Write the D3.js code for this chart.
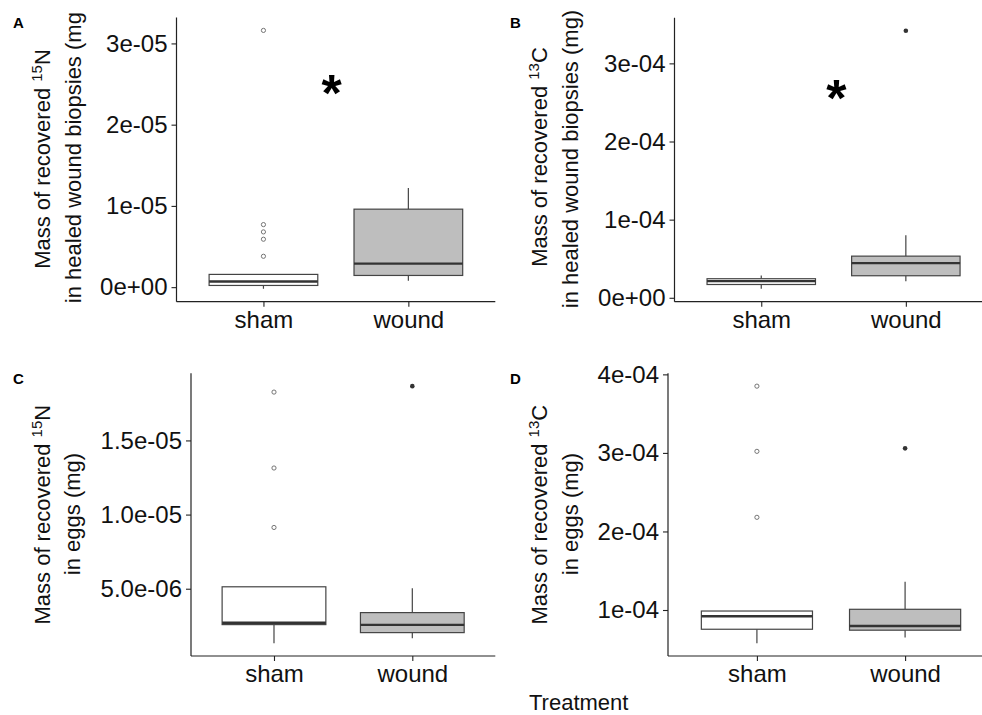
<!DOCTYPE html>
<html>
<head>
<meta charset="utf-8">
<script src="https://cdn.jsdelivr.net/npm/d3@7"></script>
<style>
  body { margin: 0; background: #fff; }
  svg { display: block; font-family: "Liberation Sans", Arial, sans-serif; }
</style>
</head>
<body>
<div id="chart"></div>
<script>
// groups on the x axis
const groups = ["sham", "wound"];

// five-number summaries [lower whisker, q1, median, q3, upper whisker] per group
const statsA = [[-2e-7, 2.1e-7, 7e-7, 1.57e-6, 1.57e-6], [8e-7, 1.44e-6, 2.9e-6, 9.6e-6, 1.22e-5]];
const statsB = [[1.15e-5, 1.7e-5, 2.13e-5, 2.44e-5, 2.86e-5], [2.13e-5, 2.82e-5, 4.44e-5, 5.33e-5, 7.99e-5]];
const statsC = [[1.33e-6, 2.58e-6, 2.71e-6, 5.13e-6, 5.13e-6], [1.66e-6, 2.04e-6, 2.56e-6, 3.39e-6, 5.03e-6]];
const statsD = [[5.78e-5, 7.55e-5, 9.2e-5, 9.87e-5, 9.87e-5], [6.5e-5, 7.43e-5, 7.97e-5, 1.009e-4, 1.36e-4]];

// outliers per group
const outA = [[3.8e-6, 5.9e-6, 6.8e-6, 7.7e-6, 3.16e-5], []];
const outB = [[], [3.418e-4]];
const outC = [[9.13e-6, 1.314e-5, 1.826e-5], [1.866e-5]];
const outD = [[2.18e-4, 3.02e-4, 3.85e-4], [3.058e-4]];

// y ticks and their labels
const ticksA = [0, 1e-5, 2e-5, 3e-5];
const tickLabelsA = ["0e+00", "1e-05", "2e-05", "3e-05"];
const ticksB = [0, 1e-4, 2e-4, 3e-4];
const tickLabelsB = ["0e+00", "1e-04", "2e-04", "3e-04"];
const ticksC = [5e-6, 1e-5, 1.5e-5];
const tickLabelsC = ["5.0e-06", "1.0e-05", "1.5e-05"];
const ticksD = [1e-4, 2e-4, 3e-4, 4e-4];
const tickLabelsD = ["1e-04", "2e-04", "3e-04", "4e-04"];

// significance marks [x position, value]
const starA = [1.47, 2.49e-5];
const starB = [1.52, 2.66e-4];

const width = 982, height = 715;
const svg = d3.select("#chart").append("svg")
  .attr("width", width).attr("height", height);

// the A panel's y title is cut at the top in the original figure
svg.append("defs").append("clipPath").attr("id", "clipTop")
  .append("rect").attr("x", 0).attr("y", 12).attr("width", width).attr("height", height);

const panels = [
  { letter: "A", stats: statsA, out: outA, ticks: ticksA, labels: tickLabelsA, star: starA,
    iso: "15", el: "N", line2: "in healed wound biopsies (mg)",
    x0: 176.5, x1: 495.3, yTop: 17.5, yBot: 301.7, l1: 50, l2: 81, cy: 159, cy2: 154, lx: 13, ly: 28, clip: true },
  { letter: "B", stats: statsB, out: outB, ticks: ticksB, labels: tickLabelsB, star: starB,
    iso: "13", el: "C", line2: "in healed wound biopsies (mg)",
    x0: 674.5, x1: 992.6, yTop: 17.8, yBot: 301.7, l1: 546.5, l2: 578, cy: 157, cy2: 159, lx: 510, ly: 28 },
  { letter: "C", stats: statsC, out: outC, ticks: ticksC, labels: tickLabelsC,
    iso: "15", el: "N", line2: "in eggs (mg)",
    x0: 191, x1: 495.3, yTop: 373.3, yBot: 656, l1: 50, l2: 80, cy: 514.7, cy2: 514, lx: 13, ly: 384 },
  { letter: "D", stats: statsD, out: outD, ticks: ticksD, labels: tickLabelsD,
    iso: "13", el: "C", line2: "in eggs (mg)",
    x0: 668, x1: 994, yTop: 373.3, yBot: 656, l1: 546.5, l2: 578, cy: 514.7, cy2: 514, lx: 510, ly: 384 }
];

const fills = ["#ffffff", "#bebebe"];
const boxStroke = "#444";

panels.forEach(p => {
  const g = svg.append("g");

  // ggplot-like 5% expansion of data range
  const vals = p.stats.flat().concat(p.out.flat());
  const lo = d3.min(vals), hi = d3.max(vals), pad = (hi - lo) * 0.05;
  const y = d3.scaleLinear().domain([lo - pad, hi + pad]).range([p.yBot, p.yTop]);
  const x = d3.scaleLinear().domain([0.4, 2.6]).range([p.x0, p.x1]);
  const bw = x(1.375) - x(1);

  // boxes
  p.stats.forEach((s, i) => {
    const cx = x(i + 1);
    const bg = g.append("g");
    bg.append("line").attr("x1", cx).attr("x2", cx).attr("y1", y(s[4])).attr("y2", y(s[3]))
      .attr("stroke", boxStroke).attr("stroke-width", 1.2);
    bg.append("line").attr("x1", cx).attr("x2", cx).attr("y1", y(s[1])).attr("y2", y(s[0]))
      .attr("stroke", boxStroke).attr("stroke-width", 1.2);
    bg.append("rect").attr("x", cx - bw).attr("width", bw * 2)
      .attr("y", y(s[3])).attr("height", y(s[1]) - y(s[3]))
      .attr("fill", fills[i]).attr("stroke", boxStroke).attr("stroke-width", 1.2);
    bg.append("line").attr("x1", cx - bw).attr("x2", cx + bw).attr("y1", y(s[2])).attr("y2", y(s[2]))
      .attr("stroke", "#333").attr("stroke-width", 2.4);

    // outliers: open for sham, filled for wound
    bg.selectAll("circle").data(p.out[i]).join("circle")
      .attr("cx", cx).attr("cy", d => y(d)).attr("r", i === 0 ? 2.1 : 2.3)
      .attr("fill", i === 0 ? "none" : "#333")
      .attr("stroke", i === 0 ? "#666" : "none").attr("stroke-width", 0.9);
  });

  // axes
  const ya = g.append("g").attr("transform", `translate(${p.x0},0)`)
    .call(d3.axisLeft(y).tickValues(p.ticks).tickFormat((d, i) => p.labels[i]).tickSize(5).tickPadding(4).tickSizeOuter(0));
  const xa = g.append("g").attr("transform", `translate(0,${p.yBot})`)
    .call(d3.axisBottom(x).tickValues([1, 2]).tickFormat((d, i) => groups[i]).tickSize(5).tickPadding(4).tickSizeOuter(0));
  [ya, xa].forEach(a => {
    a.select(".domain").attr("stroke", "#222").attr("stroke-width", 1.2);
    a.selectAll(".tick line").attr("stroke", "#222").attr("stroke-width", 1.1);
    a.selectAll(".tick text").attr("fill", "#111").style("font-size", "24px")
      .style("font-family", '"Liberation Sans", Arial, sans-serif');
  });
  ya.select(".domain").attr("d", `M0,${p.yBot}V${p.yTop}`);
  xa.select(".domain").attr("d", `M${p.x0},0H${p.x1}`);

  // significance mark
  if (p.star) {
    g.append("text").attr("x", x(p.star[0])).attr("y", y(p.star[1]) + 26)
      .attr("text-anchor", "middle").style("font-size", "52px").style("font-weight", "bold")
      .attr("fill", "#000").text("*");
  }

  // y axis title, two lines
  const lab = svg.append("g");
  if (p.clip) lab.attr("clip-path", "url(#clipTop)");
  const t1 = lab.append("text").attr("transform", `translate(${p.l1},${p.cy}) rotate(-90)`)
    .attr("text-anchor", "middle").style("font-size", "22px").attr("fill", "#111");
  t1.append("tspan").text("Mass of recovered ");
  t1.append("tspan").attr("dy", -8).style("font-size", "15px").text(p.iso);
  t1.append("tspan").attr("dy", 8).text(p.el);
  lab.append("text").attr("transform", `translate(${p.l2},${p.cy2}) rotate(-90)`)
    .attr("text-anchor", "middle").style("font-size", "22px").attr("fill", "#111").text(p.line2);

  // panel letter
  svg.append("text").attr("x", p.lx).attr("y", p.ly).style("font-size", "15px")
    .style("font-weight", "bold").attr("fill", "#000").text(p.letter);
});

// shared x title
svg.append("text").attr("x", 529).attr("y", 709.5).style("font-size", "22px")
  .attr("fill", "#111").text("Treatment");
</script>
</body>
</html>
